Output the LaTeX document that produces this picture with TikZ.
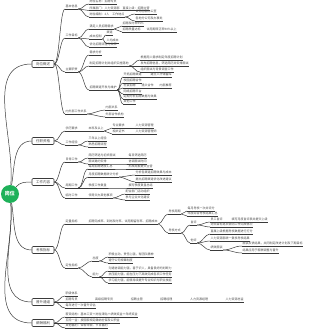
\documentclass[tikz,border=0pt]{standalone}
\usepackage{fontspec}
\setmainfont{Noto Sans CJK SC}
\definecolor{lncol}{HTML}{3A3A3A}
\definecolor{txcol}{HTML}{4A4A4A}
\definecolor{grcol}{HTML}{1EB159}
\tikzset{
  conn/.style={draw=lncol, line width=0.5pt},
  leaf/.style={font=\fontsize{3}{3.4}\selectfont, text=txcol, inner xsep=0.4pt, inner ysep=0.6pt, anchor=south west,
    append after command={(\tikzlastnode.south west) edge[conn] (\tikzlastnode.south east)}},
  mainbox/.style={draw=lncol, line width=0.6pt, rounded corners=1pt, fill=white, font=\fontsize{3.5}{4}\selectfont, text=txcol, minimum width=22pt, minimum height=7pt, inner sep=0.5pt},
  rootnode/.style={circle, fill=grcol, minimum size=18pt, inner sep=0pt, text=white, font=\fontsize{5}{6}\selectfont\bfseries},
}
\newcommand\leafat[4]{\node[leaf] (#1) at (#2,-#3) {#4};}
\newcommand\linkit[3][5pt]{\draw[conn] (#2.south east) to[out=0,in=180,distance=#1] (#3.south west);}
\newcommand\linkbox[2]{\draw[conn] (#1.east) to[out=0,in=180,distance=5pt] (#2.south west);}
\begin{document}
\begin{tikzpicture}[x=1pt,y=1pt]
\fill[white] (0,0) rectangle (310,-331);
\useasboundingbox (0,0) rectangle (310,-331);

\node[rootnode] (root) at (10,-194) {岗位};
\node[mainbox] (b1) at (43,-64) {岗位概述};
\node[mainbox] (b2) at (43,-141) {任职资格};
\node[mainbox] (b3) at (43,-182) {工作内容};
\node[mainbox] (b4) at (43,-250) {考核指标};
\node[mainbox] (b5) at (43,-302) {晋升通道};
\node[mainbox] (b6) at (43,-323) {薪酬福利};

\draw[conn] (root) to[out=85,in=180] (b1.west);
\draw[conn] (root) to[out=80,in=180] (b2.west);
\draw[conn] (root) to[out=50,in=180] (b3.west);
\draw[conn] (root) to[out=-80,in=180] (b4.west);
\draw[conn] (root) to[out=-85,in=180] (b5.west);
\draw[conn] (root) to[out=-85,in=180] (b6.west);

% ---- branch 1
\leafat{A1}{65}{9}{基本信息}
\leafat{a1}{89}{4}{岗位名称：招聘专员}
\leafat{a2}{89}{10.5}{所属部门：人力资源部　直接上级：招聘主管}
\leafat{a3}{89}{17}{岗位编制：2人　工作地点}
\leafat{a31}{135}{14}{公司总部办公室}
\leafat{a32}{135}{21}{各地分公司及办事处}
\leafat{A2}{65}{38}{工作目标}
\leafat{b11}{89}{29}{满足人员招聘需求}
\leafat{b111}{122}{26}{招聘及时率95\%}
\leafat{b112}{122}{32}{招聘质量达标　　试用期转正率90\%以上}
\leafat{b12}{89}{39}{成本控制}
\leafat{b121}{106}{35}{渠道}
\leafat{b122}{106}{43}{人均成本}
\leafat{b13}{89}{47}{优化招聘流程与效率}
\leafat{A3}{65}{72}{主要职责}
\leafat{c1}{89}{55}{需求分析}
\leafat{c2}{89}{66}{制定招聘计划并组织实施落地}
\leafat{c21}{140}{60}{根据用人需求制定年度招聘计划}
\leafat{c22}{140}{66}{发布招聘信息，筛选简历并安排面试}
\leafat{c23}{140}{72}{组织面试与背景调查工作}
\leafat{c3}{89}{90}{招聘渠道开发与维护}
\leafat{c31}{123}{77}{开拓招聘渠道　　　建立人才储备库}
\leafat{c32}{123}{83}{校园招聘合作}
\leafat{c33}{123}{88}{社会招聘　　猎头合作　　内部推荐}
\leafat{c34}{123}{94}{网络招聘平台}
\leafat{c35}{123}{99}{定期分析招聘数据与效果}
\leafat{c36}{123}{104}{其他工作}
\leafat{A4}{65}{114}{内外部工作关系}
\leafat{d1}{105}{110}{内部关系}
\leafat{d2}{105}{117}{外部合作机构}

\linkbox{b1}{A1}\linkbox{b1}{A2}\linkbox{b1}{A3}\linkbox{b1}{A4}
\linkit{A1}{a1}\linkit{A1}{a2}\linkit{A1}{a3}
\linkit{a3}{a31}\linkit{a3}{a32}
\linkit{A2}{b11}\linkit{A2}{b12}\linkit{A2}{b13}
\linkit[3pt]{b11}{b111}\linkit[3pt]{b11}{b112}
\linkit[2pt]{b12}{b121}\linkit[2pt]{b12}{b122}
\linkit{A3}{c1}\linkit{A3}{c2}\linkit{A3}{c3}
\linkit{c2}{c21}\linkit{c2}{c22}\linkit{c2}{c23}
\linkit[3pt]{c3}{c31}\linkit[3pt]{c3}{c32}\linkit[3pt]{c3}{c33}
\linkit[3pt]{c3}{c34}\linkit[3pt]{c3}{c35}\linkit[3pt]{c3}{c36}
\linkit{A4}{d1}\linkit{A4}{d2}

% ---- branch 2
\leafat{B1}{65}{131}{学历要求}
\leafat{B11}{88}{131}{本科及以上}
\leafat{B111}{112}{128}{专业要求}
\leafat{B1111}{135}{128}{人力资源管理}
\leafat{B112}{112}{134}{相关证书}
\leafat{B1121}{135}{134}{人力资源管理师}
\leafat{B2}{65}{145}{工作经验}
\leafat{B21}{88}{141}{三年以上经验}
\leafat{B22}{88}{147}{熟悉招聘流程}
\linkbox{b2}{B1}\linkbox{b2}{B2}
\linkit{B1}{B11}
\linkit[3pt]{B11}{B111}\linkit[3pt]{B11}{B112}
\linkit{B111}{B1111}\linkit{B112}{B1121}
\linkit{B2}{B21}\linkit{B2}{B22}

% ---- branch 3
\leafat{C1}{65}{162}{日常工作}
\leafat{C11}{88}{158}{简历筛选与初步面试}
\leafat{C111}{128}{158}{每日筛选简历}
\leafat{C12}{88}{164}{面试邀约安排}
\leafat{C121}{128}{164}{协调面试时间}
\leafat{C2}{65}{188}{周期工作}
\leafat{C21}{88}{169}{每周招聘进度汇总}
\leafat{C211}{128}{169}{形成周报提交主管}
\leafat{C22}{88}{177}{月度招聘数据统计分析}
\leafat{C221}{135}{175}{分析各渠道招聘效果与成本}
\leafat{C222}{135}{182}{提出招聘渠道优化改进建议}
\leafat{C23}{88}{188}{季度工作复盘}
\leafat{C231}{128}{188}{撰写季度复盘总结}
\leafat{C3}{65}{198}{临时工作}
\leafat{C31}{88}{198}{领导交办其他事项}
\leafat{C311}{125}{194}{配合部门活动组织}
\leafat{C312}{125}{200}{参与企业文化建设}
\linkbox{b3}{C1}\linkbox{b3}{C2}\linkbox{b3}{C3}
\linkit{C1}{C11}\linkit{C1}{C12}
\linkit{C11}{C111}\linkit{C12}{C121}
\linkit{C2}{C21}\linkit{C2}{C22}\linkit{C2}{C23}
\linkit{C21}{C211}\linkit{C23}{C231}
\linkit[4pt]{C22}{C221}\linkit[4pt]{C22}{C222}
\linkit{C3}{C31}
\linkit[4pt]{C31}{C311}\linkit[4pt]{C31}{C312}

% ---- branch 4
\leafat{D1}{65}{224}{定量指标}
\leafat{D11}{88}{224}{招聘完成率、到岗及时率、试用期留存率、招聘成本}
\leafat{D111}{168}{214}{考核周期}
\leafat{D1111}{187}{211}{每月考核一次并评分}
\leafat{D1112}{187}{216}{年度综合考核结果汇总}
\leafat{D112}{168}{233}{考核方式}
\leafat{D1121}{190}{225}{自评}
\leafat{Da1}{210}{222}{员工自评　　　填写月度自评表并提交上级}
\leafat{Da2}{210}{227}{对照目标逐项说明工作完成情况}
\leafat{D1122}{190}{243}{他评}
\leafat{Db1}{210}{234}{直属上级根据考核数据进行打分}
\leafat{Db2}{210}{241}{人力资源部统一复核考核结果}
\leafat{Db3}{210}{250}{绩效面谈}
\leafat{Dc1}{242}{246}{面谈反馈结果，共同制定改进计划及下期目标}
\leafat{Dc2}{242}{253}{结果应用于薪酬调整与晋升}
\leafat{D2}{65}{268}{定性指标}
\leafat{D21}{92}{261}{态度}
\leafat{D211}{108}{257}{积极主动，责任心强，有团队精神}
\leafat{D212}{108}{263}{遵守公司规章制度}
\leafat{D22}{92}{277}{能力}
\leafat{D221}{108}{271}{沟通协调能力强，善于识人，具备良好的判断力}
\leafat{D222}{108}{277}{抗压能力强，能在压力下高效完成各项工作任务}
\leafat{D223}{108}{283}{学习能力强，能够持续提升专业知识与职业技能}
\linkbox{b4}{D1}\linkbox{b4}{D2}
\linkit{D1}{D11}
\linkit[4pt]{D11}{D111}\linkit[4pt]{D11}{D112}
\linkit[3pt]{D111}{D1111}\linkit[3pt]{D111}{D1112}
\linkit[4pt]{D112}{D1121}\linkit[4pt]{D112}{D1122}
\linkit{D1121}{Da1}\linkit{D1121}{Da2}
\linkit{D1122}{Db1}\linkit{D1122}{Db2}\linkit{D1122}{Db3}
\linkit[8pt]{Db3}{Dc1}\linkit[8pt]{Db3}{Dc2}
\linkit[5pt]{D2}{D21}\linkit[5pt]{D2}{D22}
\linkit[4pt]{D21}{D211}\linkit[4pt]{D21}{D212}
\linkit[4pt]{D22}{D221}\linkit[4pt]{D22}{D222}\linkit[4pt]{D22}{D223}

% ---- branch 5
\leafat{E1}{65}{296}{职级体系}
\leafat{E2}{65}{302}{招聘专员\hspace{17.6pt}高级招聘专员\hspace{17.6pt}招聘主管\hspace{17.6pt}招聘经理\hspace{17.6pt}人力资源经理\hspace{17.6pt}人力资源总监}
\leafat{E3}{65}{308}{每年进行一次晋升评估}
\linkbox{b5}{E1}\linkbox{b5}{E2}\linkbox{b5}{E3}

% ---- branch 6
\leafat{F1}{65}{317}{薪资结构：基本工资＋岗位津贴＋绩效奖金＋年终奖金}
\leafat{F2}{65}{323}{五险一金：按国家规定缴纳社保及公积金}
\leafat{F3}{65}{328}{其他福利：带薪年假、节日福利}
\linkbox{b6}{F1}\linkbox{b6}{F2}\linkbox{b6}{F3}
\end{tikzpicture}
\end{document}
